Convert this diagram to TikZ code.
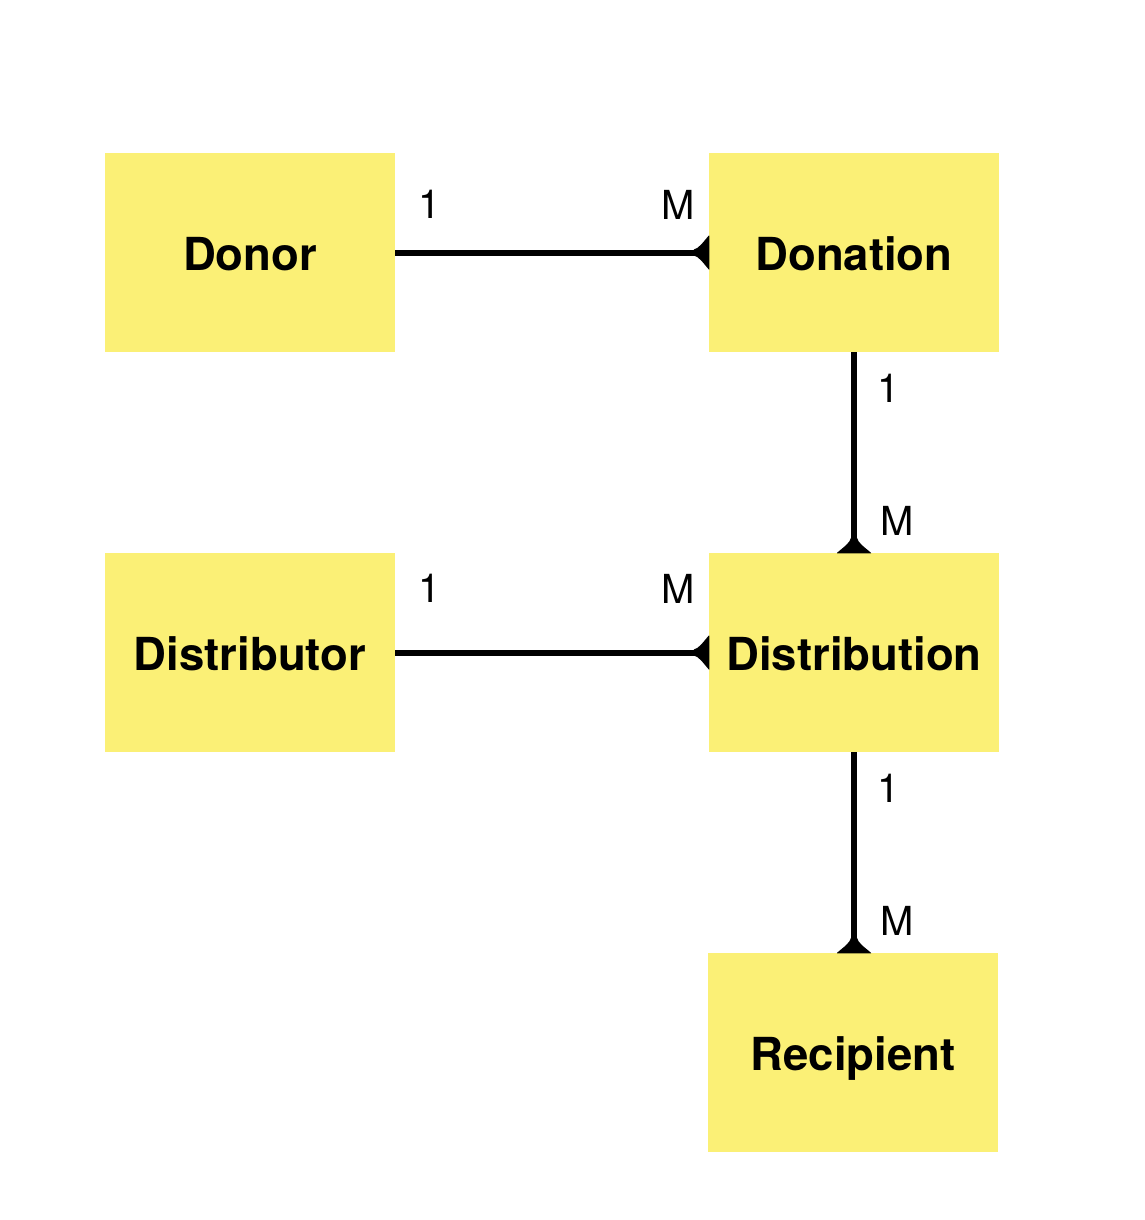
\documentclass[tikz,border=0pt]{standalone}
\usepackage{fontspec}
\setmainfont{TeX Gyre Heros}
\begin{document}
\begin{tikzpicture}[x=1pt,y=-1pt,
  entity/.style={fill=boxyellow,draw=none,minimum width=290pt,minimum height=199pt,inner sep=0pt,
    text height=35pt,text depth=0pt,
    font=\fontsize{45.5}{54}\selectfont\bfseries},
  card/.style={inner sep=0pt,font=\fontsize{40}{48}\selectfont},
  conn/.style={line width=6pt},
  crow/.pic={\fill (0.5,17) -- (0.5,-17) -- (0,-17) .. controls (-6,-10) and (-10,-4) .. (-15,-3) -- (-15,3) .. controls (-10,4) and (-6,10) .. (0,17) -- cycle;}
]
\definecolor{boxyellow}{RGB}{251,240,118}
\useasboundingbox[fill=white] (0,0) rectangle (1144,1220);
\node[entity] (donor) at (250,252.5) {Donor};
\node[entity] (donation) at (854,252.5) {Donation};
\node[entity] (distributor) at (250,652.5) {Distributor};
\node[entity] (distribution) at (854,652.5) {Distribution};
\node[entity] (recipient) at (853,1052.5) {Recipient};
\draw[conn] (donor.east) -- (donation.west);
\pic at (donation.west) {crow};
\draw[conn] (distributor.east) -- (distribution.west);
\pic at (distribution.west) {crow};
\draw[conn] (donation.south) -- (distribution.north);
\pic[rotate=-90] at (distribution.north) {crow};
\coordinate (rtop) at (distribution.south |- recipient.north);
\draw[conn] (distribution.south) -- (rtop);
\pic[rotate=-90] at (rtop) {crow};
\node[card] (l1) at (430,204.5) {1};
\node[card] (l2) at (678.5,204.5) {M};
\node[card] (l3) at (889,388.5) {1};
\node[card] (l4) at (897.5,520.5) {M};
\node[card] (l5) at (430,588.5) {1};
\node[card] (l6) at (678.5,588.5) {M};
\node[card] (l7) at (889,788.5) {1};
\node[card] (l8) at (897.5,920.5) {M};
\end{tikzpicture}
\end{document}
